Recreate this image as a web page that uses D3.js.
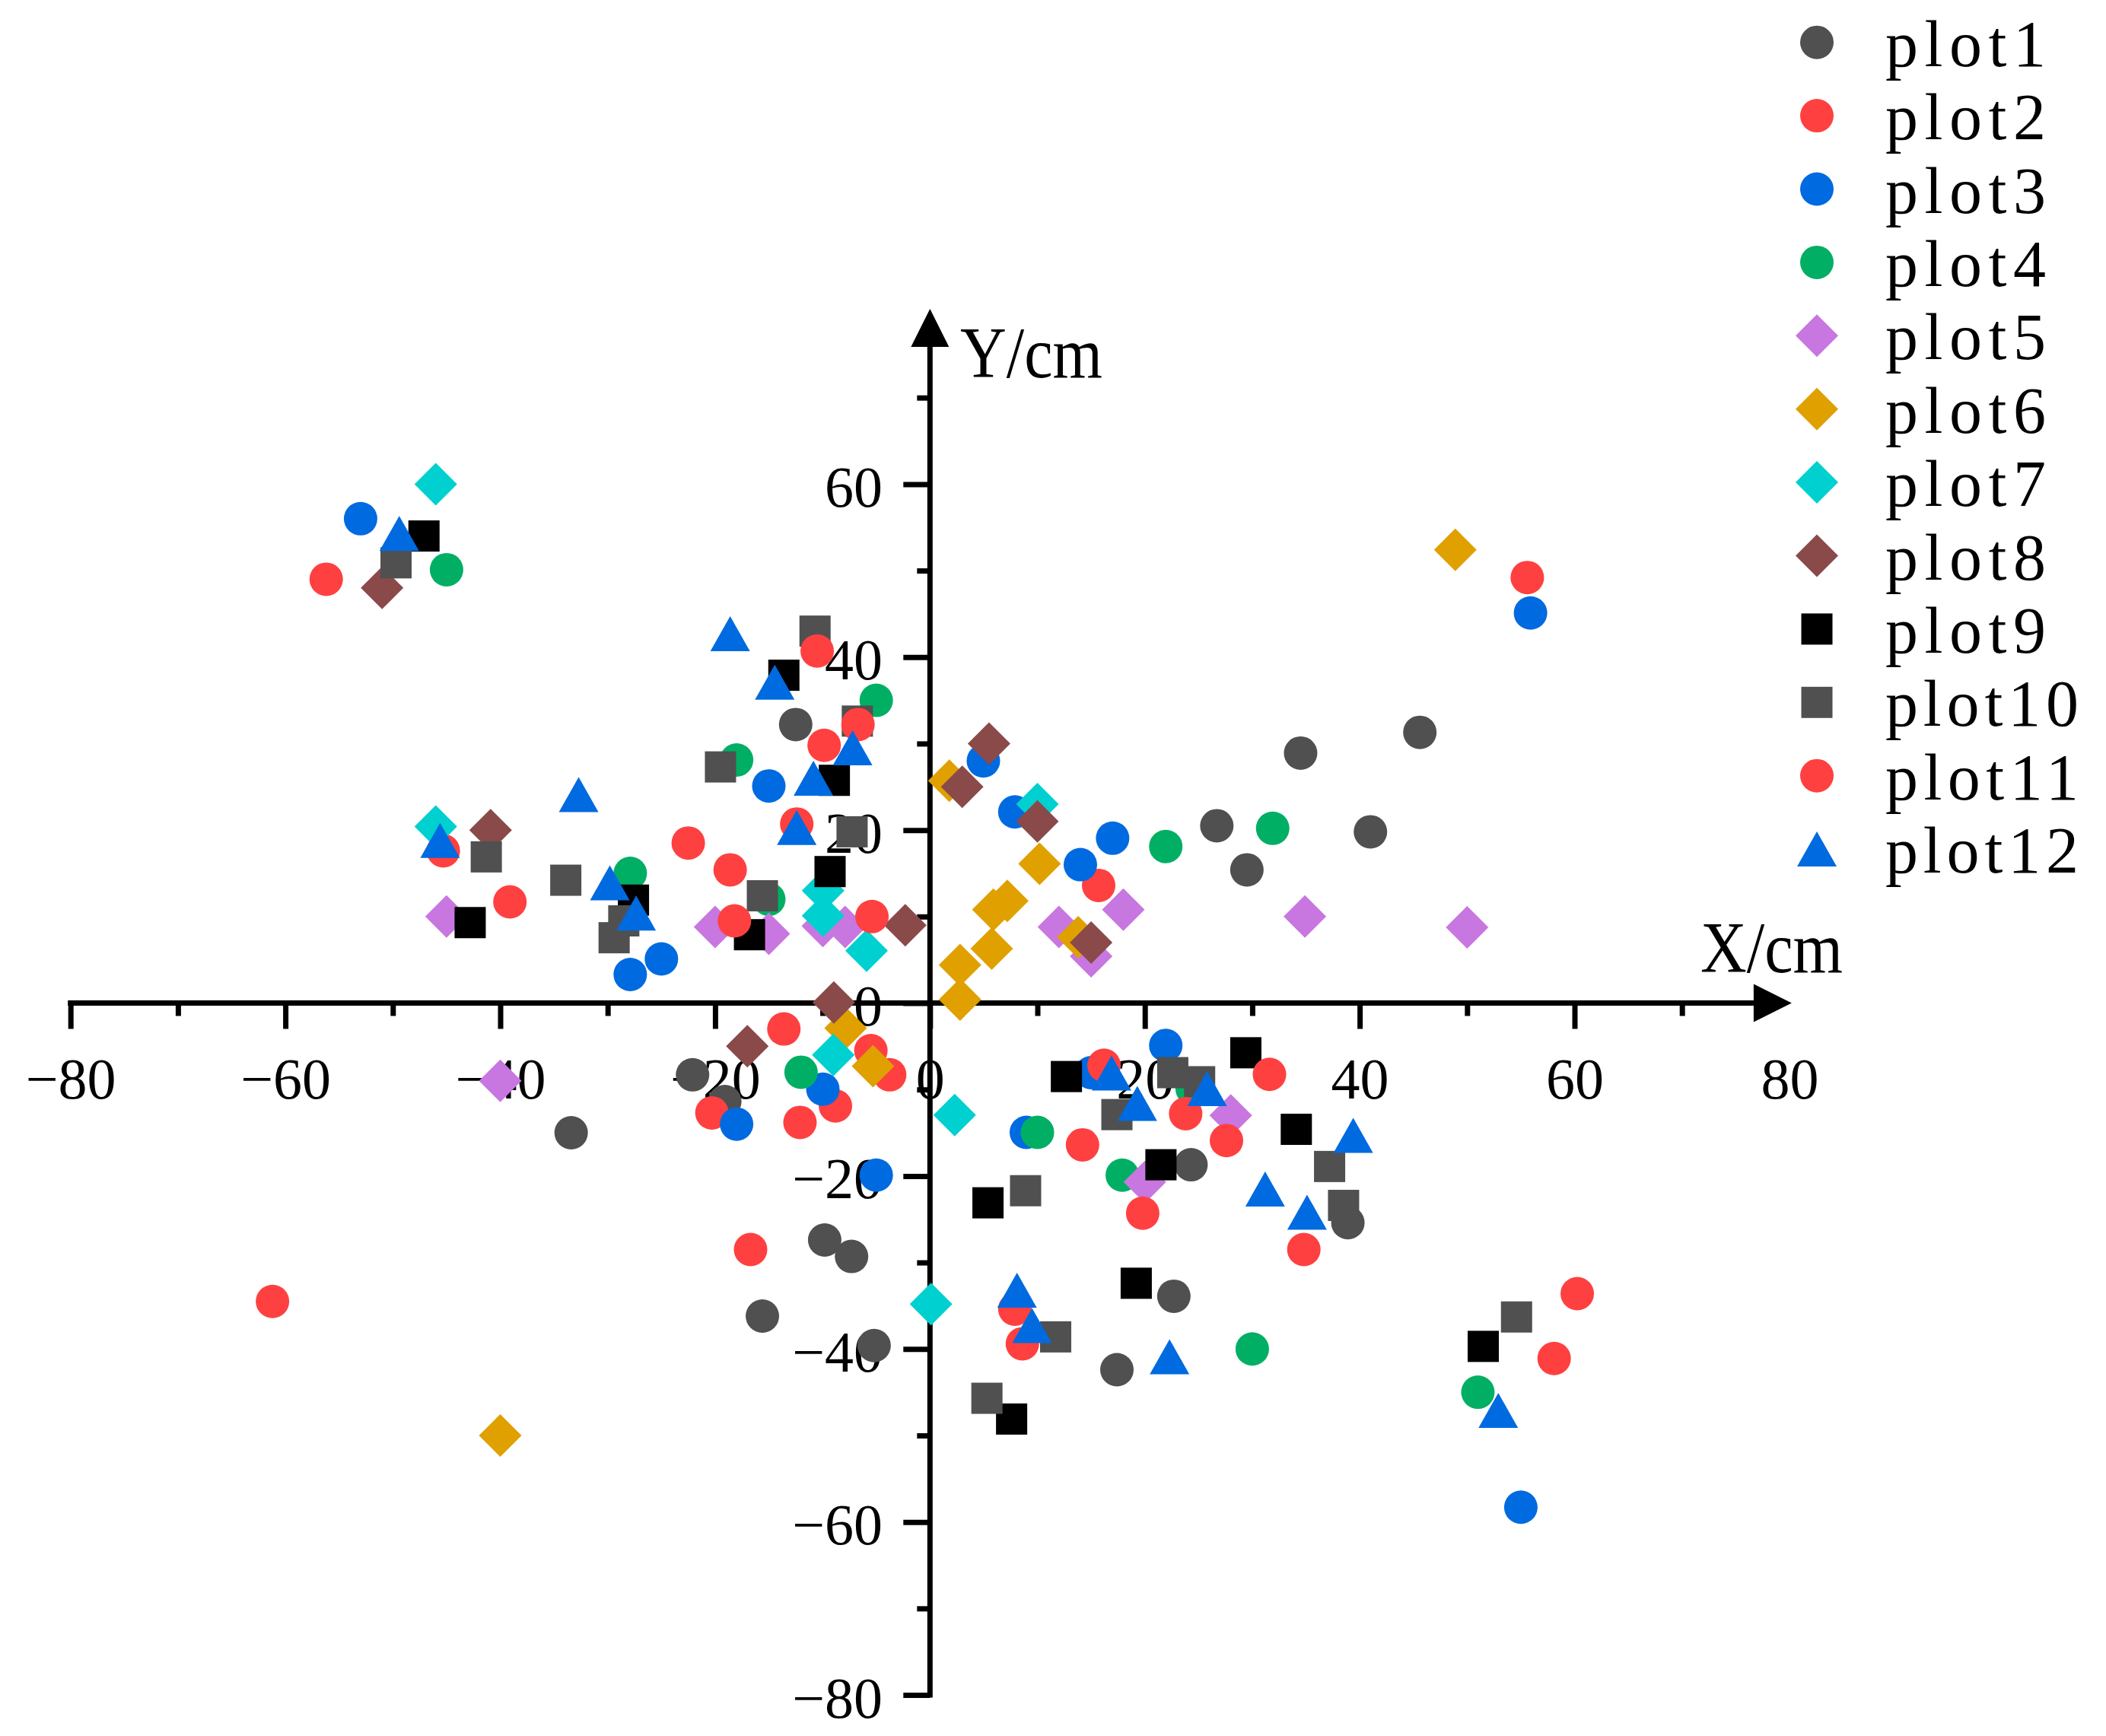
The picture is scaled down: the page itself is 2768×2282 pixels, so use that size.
<!DOCTYPE html>
<html><head><meta charset="utf-8">
<script src="https://cdn.jsdelivr.net/npm/d3@7"></script>
<style>html,body{margin:0;padding:0;background:#fff}</style>
</head><body>
<svg id="chart" width="2768" height="2282" xmlns="http://www.w3.org/2000/svg"></svg>
<script>
// ---------- data ----------
const seriesNames = ["plot1","plot2","plot3","plot4","plot5","plot6","plot7","plot8","plot9","plot10","plot11","plot12"];
const seriesColors = ["#505050","#FF4040","#006AE0","#00AF64","#C876E0","#DFA000","#00D0D0","#8A4A4A","#000000","#505050","#FF4040","#006AE0"];
const seriesShapes = ["circle","circle","circle","circle","diamond","diamond","diamond","diamond","square","square","circle","triangle"];

const plot1 = [[45.6,31.3],[34.5,28.9],[26.7,20.5],[41.0,19.8],[29.5,15.4],[-12.5,32.2],[-22.1,-8.3],[-19.1,-11.4],[-33.4,-15.0],[-9.8,-27.4],[-7.3,-29.3],[-15.6,-36.2],[-5.2,-39.6],[24.3,-18.7],[38.9,-25.4],[22.7,-33.9],[17.4,-42.4]];
const plot2 = [[-56.2,49.0],[-45.3,17.6],[-39.1,11.7],[-22.5,18.5],[-18.6,15.4],[-13.6,-3.0],[-20.3,-12.7],[-8.8,-11.9],[-5.5,-5.5],[-3.75,-8.3],[-12.1,-13.8],[-16.7,-28.5],[-61.2,-34.5],[15.7,13.6],[14.2,-16.4],[7.9,-35.4]];
const plot3 = [[-53.0,56.0],[-15.0,25.1],[4.97,28.0],[7.9,22.1],[17.0,19.06],[14.0,16.0],[-25.0,5.1],[-27.9,3.3],[-9.97,-9.96],[-18.0,-14.0],[-5.0,-19.9],[8.97,-14.95],[21.95,-4.9],[15.0,-8.05],[55.9,45.1],[55.0,-58.3]];
const plot4 = [[-45.0,50.1],[-5.0,35.0],[-18.0,28.1],[-15.0,12.0],[-27.9,15.0],[-12.0,-8.0],[10.0,-14.95],[21.95,18.1],[31.9,20.2],[17.9,-19.9],[30.0,-40.0],[51.0,-45.0],[24.4,-9.9]];
const plot5 = [[-45.0,10.0],[-40.0,-9.0],[-20.0,8.8],[-15.0,8.0],[-9.97,8.9],[-7.9,8.8],[12.0,8.8],[18.0,10.8],[15.0,5.4],[34.9,10.0],[50.0,8.75],[28.0,-13.0],[20.0,-20.7]];
const plot6 = [[48.9,52.4],[1.8,25.7],[10.2,16.1],[7.2,11.8],[5.9,10.8],[5.75,6.3],[2.8,4.4],[2.8,0.4],[-7.85,-2.9],[-5.3,-7.3],[13.8,7.6],[-40.0,-50.0]];
const plot7 = [[-46.0,60.0],[-46.0,20.4],[-9.95,13.0],[-9.95,10.1],[-5.9,6.05],[-9.0,-6.0],[2.3,-12.95],[0.1,-34.8],[10.0,23.0]];
const plot8 = [[-51.0,48.0],[-40.9,20.0],[-8.95,0.06],[-17.0,-5.0],[-2.3,9.0],[5.5,30.0],[3.0,25.0],[10.0,21.0],[15.0,7.0]];
const plot9 = [[-47.1,54.0],[-42.8,9.3],[-27.6,11.9],[-16.8,7.9],[-13.6,37.9],[-8.9,25.75],[-9.3,15.2],[12.7,-8.5],[29.4,-5.75],[21.5,-18.7],[34.1,-14.6],[5.4,-23.1],[19.2,-32.4],[7.6,-48.1],[51.5,-39.7]];
const plot10 = [[-49.7,50.9],[-41.3,16.9],[-33.9,14.2],[-29.4,7.55],[-28.5,9.5],[-19.5,27.3],[-15.6,12.4],[-10.7,43.0],[-6.76,32.6],[-7.25,19.8],[17.4,-12.9],[22.6,-8.05],[25.1,-9.1],[8.9,-21.7],[37.2,-18.9],[38.5,-23.4],[5.3,-45.7],[11.7,-38.6],[54.6,-36.3]];
const plot11 = [[-10.5,40.7],[-9.85,29.8],[-6.7,32.2],[-12.4,20.7],[-18.2,9.5],[-5.4,10.0],[16.2,-7.2],[23.8,-12.8],[19.8,-24.3],[27.6,-15.9],[31.6,-8.25],[34.8,-28.5],[8.6,-39.4],[55.6,49.2],[60.25,-33.6],[58.1,-41.1]];
const plot12 = [[-49.4,54.3],[-45.6,18.8],[-32.7,24.1],[-29.8,13.9],[-27.35,10.4],[-18.6,42.7],[-14.45,37.1],[-10.85,26.0],[-12.4,20.3],[-7.2,29.5],[16.9,-8.1],[19.3,-11.6],[25.8,-9.9],[31.2,-21.5],[35.1,-24.2],[39.4,-15.3],[8.1,-33.2],[9.5,-37.3],[22.3,-40.9],[52.9,-47.1]];

const xTickLabels = [-80,-60,-40,-20,0,20,40,60,80];
const yTickLabels = [-80,-60,-40,-20,0,20,40,60];
const minorTicks = [-70,-50,-30,-10,10,30,50,70];
const xTitle = "X/cm";
const yTitle = "Y/cm";

const allSeries = [plot1,plot2,plot3,plot4,plot5,plot6,plot7,plot8,plot9,plot10,plot11,plot12];

// ---------- layout ----------
const FONT = "'Liberation Serif','DejaVu Serif',serif";
const svg = d3.select("#chart");
const x = d3.scaleLinear().domain([-80, 80]).range([92.7, 2351.9]);
const y = d3.scaleLinear().domain([-80, 80]).range([2228, 409]);
const X0 = x(0), Y0 = y(0);
const AX_W = 7;

const fmt = v => (v < 0 ? "\u2212" + Math.abs(v) : String(v));

// minor ticks
svg.append("g").attr("transform", `translate(0,${Y0})`)
  .call(d3.axisBottom(x).tickValues(minorTicks).tickSizeInner(17).tickSizeOuter(0).tickFormat(""))
  .call(g => g.select(".domain").remove())
  .call(g => g.selectAll("line").attr("stroke", "#000").attr("stroke-width", AX_W));
svg.append("g").attr("transform", `translate(${X0},0)`)
  .call(d3.axisLeft(y).tickValues(minorTicks).tickSizeInner(17).tickSizeOuter(0).tickFormat(""))
  .call(g => g.select(".domain").remove())
  .call(g => g.selectAll("line").attr("stroke", "#000").attr("stroke-width", AX_W));

// major x ticks + labels
svg.append("g").attr("transform", `translate(0,${Y0})`)
  .call(d3.axisBottom(x).tickValues(xTickLabels).tickSizeInner(34).tickSizeOuter(0).tickFormat(fmt))
  .call(g => g.select(".domain").remove())
  .call(g => g.selectAll("line").attr("stroke", "#000").attr("stroke-width", AX_W)
      .attr("stroke-opacity", d => d === 80 ? 0 : 1))
  .call(g => g.selectAll("text").attr("y", 125).attr("dy", null)
      .attr("font-family", FONT).attr("font-size", 76).attr("fill", "#000"));

// major y ticks + labels
svg.append("g").attr("transform", `translate(${X0},0)`)
  .call(d3.axisLeft(y).tickValues(yTickLabels).tickSizeInner(35).tickSizeOuter(0).tickFormat(fmt))
  .call(g => g.select(".domain").remove())
  .call(g => g.selectAll("line").attr("stroke", "#000").attr("stroke-width", AX_W))
  .call(g => g.selectAll("text").attr("x", -(X0 - 1160)).attr("y", 29).attr("dy", null)
      .attr("font-family", FONT).attr("font-size", 76).attr("fill", "#000"));

// axis lines with arrows
const xTip = x(80) + 3, yTip = y(80) - 3, AH = 50, AWd = 25;
svg.append("line").attr("x1", x(-80) - AX_W/2).attr("x2", xTip - AH + 2)
  .attr("y1", Y0).attr("y2", Y0).attr("stroke", "#000").attr("stroke-width", AX_W);
svg.append("line").attr("x1", X0).attr("x2", X0)
  .attr("y1", y(-80) + AX_W/2).attr("y2", yTip + AH - 2).attr("stroke", "#000").attr("stroke-width", AX_W);
svg.append("path").attr("d", `M${xTip},${Y0} L${xTip-AH},${Y0-AWd} L${xTip-AH},${Y0+AWd} Z`).attr("fill", "#000");
svg.append("path").attr("d", `M${X0},${yTip} L${X0-AWd},${yTip+AH} L${X0+AWd},${yTip+AH} Z`).attr("fill", "#000");

// axis titles
svg.append("text").attr("x", 2235).attr("y", 1278).attr("font-family", FONT).attr("font-size", 95)
  .attr("textLength", 187).attr("lengthAdjust", "spacingAndGlyphs").text(xTitle);
svg.append("text").attr("x", 1262).attr("y", 496).attr("font-family", FONT).attr("font-size", 95)
  .attr("textLength", 187).attr("lengthAdjust", "spacingAndGlyphs").text(yTitle);

// ---------- markers ----------
function drawMarker(sel, shape, color) {
  if (shape === "circle") sel.append("circle").attr("r", 22).attr("fill", color);
  else if (shape === "square") sel.append("rect").attr("x", -20.5).attr("y", -20.5).attr("width", 41).attr("height", 41).attr("fill", color);
  else if (shape === "diamond") sel.append("path").attr("d", "M0,-28 L28,0 L0,28 L-28,0 Z").attr("fill", color);
  else if (shape === "triangle") sel.append("path").attr("d", "M0,-23 L26,23 L-26,23 Z").attr("fill", color);
}

allSeries.forEach((data, i) => {
  const g = svg.append("g").attr("class", "series " + seriesNames[i]);
  g.selectAll("g.pt").data(data).enter().append("g").attr("class", "pt")
    .attr("transform", d => `translate(${x(d[0])},${y(d[1])})`)
    .each(function() { drawMarker(d3.select(this), seriesShapes[i], seriesColors[i]); });
});

// ---------- legend ----------
const legend = svg.append("g").attr("class", "legend");
seriesNames.forEach((name, i) => {
  const cy = 55.7 + i * 96.4;
  const item = legend.append("g").attr("transform", `translate(2388,${cy})`);
  drawMarker(item, seriesShapes[i], seriesColors[i]);
  legend.append("text").attr("x", 2478).attr("y", cy + 31)
    .attr("font-family", FONT).attr("font-size", 86).attr("fill", "#000")
    .attr("textLength", 43 * name.length - 4).attr("lengthAdjust", "spacing")
    .text(name);
});
</script>
</body></html>
